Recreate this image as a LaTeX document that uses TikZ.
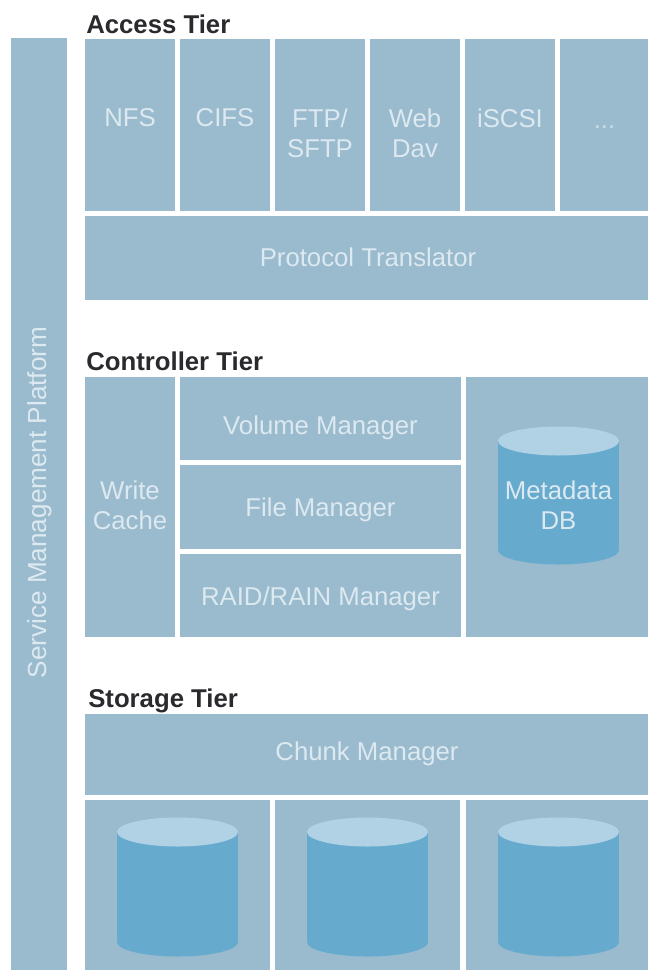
\documentclass[tikz,border=0pt]{standalone}
\usepackage{fontspec}
\setmainfont{Liberation Sans}
\definecolor{tierblue}{HTML}{9ABBCE}
\definecolor{dbblue}{HTML}{66AACE}
\definecolor{dbtop}{HTML}{B0D2E4}
\definecolor{labelgrey}{HTML}{DDE9F0}
\definecolor{headgrey}{HTML}{2A2A2E}
\tikzset{
  tier/.style={fill=tierblue},
  lbl/.style={text=labelgrey, inner sep=0pt, align=center, font=\fontsize{19.3}{22.5}\selectfont},
  head/.style={text=headgrey, inner sep=0pt, anchor=west, font=\fontsize{19.3}{22.5}\selectfont\bfseries},
}
\def\dbdrum(#1:#2:#3)% Syntax: (centre x:top y:bottom y)
    { \fill[dbblue] (#1-60.5,#2) rectangle (#1+60.5,#3);
      \fill[dbblue] (#1,#3) ellipse [x radius=60.5, y radius=14.5];
      \fill[dbtop] (#1,#2) ellipse [x radius=60.5, y radius=14.5]; }

\begin{document}
\begin{tikzpicture}[x=0.75pt,y=-0.75pt]
   \useasboundingbox (0,0) rectangle (648,970);

   \fill[tier] (11,38) rectangle (67,970);
   \node[lbl, rotate=90, font=\fontsize{19.6}{22.5}\selectfont] (platform) at (39.5,502.5) {Service Management Platform};

   % access tier
   \node[head] (accesshead) at (86,24) {Access Tier};
   \foreach \x/\xend/\name/\txt/\y in {85/175/nfs/NFS/118, 180/270/cifs/CIFS/118,
       275/365/ftp/{FTP/\\SFTP}/133, 370/460/webdav/{Web\\Dav}/133,
       465/555/iscsi/iSCSI/118} {
     \fill[tier] (\x,39) rectangle (\xend,211);
     \node[lbl] (\name) at ({(\x+\xend)/2},\y) {\txt};
   }
   \fill[tier] (560,39) rectangle (648,211);
   \node[lbl, text=labelgrey!70!tierblue] (more) at (604.5,127) {...};
   \fill[tier] (85,216) rectangle (648,300);
   \node[lbl] (translator) at (368,257) {Protocol Translator};

   % controller tier
   \node[head] (controllerhead) at (86,361) {Controller Tier};
   \fill[tier] (85,377) rectangle (175,637);
   \node[lbl] (cache) at (130,505) {Write\\Cache};
   \foreach \ya/\yb/\y/\name/\txt in {377/460/427.5/volume/Volume Manager,
       465/549/509.5/file/File Manager, 554/637/598.5/raid/{RAID/RAIN Manager}} {
     \fill[tier] (180,\ya) rectangle (461,\yb);
     \node[lbl] (\name) at (320.5,\y) {\txt};
   }
   \fill[tier] (466,377) rectangle (648,637);
   \dbdrum(558.5:441:550)
   \node[lbl] (metadata) at (558.5,505) {Metadata\\DB};

   % storage tier
   \node[head] (storagehead) at (88,700.5) {Storage Tier};
   \fill[tier] (85,714) rectangle (648,795);
   \node[lbl] (chunk) at (367,754) {Chunk Manager};
   \foreach \x/\xend/\cx in {85/270/177.5, 275/460/367.5, 466/648/558.5} {
     \fill[tier] (\x,800) rectangle (\xend,970);
     \dbdrum(\cx:832:942)
   }
\end{tikzpicture}
\end{document}
